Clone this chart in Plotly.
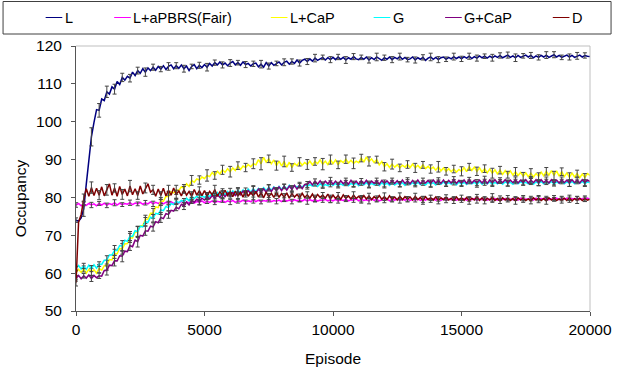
import plotly.graph_objects as go

# ---------------- data ----------------
EPISODES = list(range(0, 20001, 100))

SERIES_NAMES = ["L", "L+aPBRS(Fair)", "L+CaP", "G", "G+CaP", "D"]

L_VALUES = [
    74.0, 73.7, 74.6, 77.0, 83.5, 89.0, 96.0, 99.8, 103.2, 103.0,
    106.0, 105.6, 107.9, 107.3, 109.2, 108.6, 110.6, 109.8, 111.7, 111.0,
    112.0, 111.5, 113.1, 112.2, 113.5, 112.8, 114.0, 113.1, 114.2, 113.5,
    114.4, 113.6, 114.6, 113.9, 114.8, 113.8, 114.6, 115.0, 114.0, 114.8,
    114.1, 115.0, 114.0, 114.7, 113.5, 114.6, 115.1, 114.0, 114.9, 114.3,
    115.1, 114.4, 115.4, 114.7, 115.6, 115.0, 115.8, 115.0, 115.5, 114.8,
    115.5, 115.9, 115.0, 115.6, 114.9, 115.8, 115.1, 115.4, 114.7, 115.3,
    115.5, 114.5, 115.2, 114.4, 115.6, 114.7, 115.6, 114.9, 115.4, 115.8,
    115.0, 115.7, 116.0, 115.2, 115.9, 115.4, 116.3, 115.5, 116.2, 116.5,
    115.9, 116.6, 116.0, 116.8, 116.2, 116.7, 117.0, 116.3, 116.9, 116.4,
    117.0, 116.4, 117.1, 116.5, 117.0, 116.3, 116.9, 116.5, 117.2, 116.6,
    116.4, 117.0, 116.5, 117.1, 116.3, 116.9, 116.4, 117.1, 116.6, 116.2,
    116.9, 116.5, 117.1, 116.4, 117.0, 116.6, 117.2, 116.5, 117.0, 116.4,
    116.6, 117.1, 116.3, 116.9, 116.5, 117.0, 116.2, 116.8, 117.1, 116.5,
    117.0, 116.4, 116.9, 117.1, 116.5, 117.0, 116.6, 117.2, 116.7, 117.1,
    116.6, 117.2, 116.8, 117.3, 116.7, 117.2, 116.8, 117.4, 116.9, 117.3,
    116.8, 117.3, 116.9, 117.4, 117.0, 117.5, 116.9, 117.3, 117.6, 117.0,
    117.4, 116.9, 117.5, 117.0, 117.4, 117.6, 117.1, 117.5, 116.9, 117.4,
    117.0, 117.5, 117.1, 117.6, 117.0, 117.4, 117.7, 117.1, 117.5, 117.0,
    117.4, 117.6, 117.1, 117.5, 117.0, 117.4, 117.6, 117.1, 117.5, 117.3,
    117.2,
]

APBRS_VALUES = [
    78.0, 78.4, 77.8, 78.3, 77.9, 78.4, 78.0, 78.3, 77.8, 78.4,
    78.0, 78.5, 77.9, 78.4, 78.1, 78.6, 78.0, 78.5, 78.1, 78.4,
    78.2, 78.6, 78.1, 78.5, 78.3, 78.7, 78.2, 78.6, 78.3, 78.8,
    78.3, 78.7, 78.4, 78.9, 78.3, 78.7, 78.5, 78.9, 78.4, 78.8,
    78.5, 79.0, 78.4, 78.8, 78.6, 79.0, 78.5, 78.9, 78.7, 79.1,
    78.6, 79.0, 78.7, 79.1, 78.6, 79.0, 78.8, 79.2, 78.7, 79.1,
    78.8, 79.2, 78.7, 79.1, 78.9, 79.3, 78.8, 79.1, 78.9, 79.3,
    78.9, 79.3, 78.8, 79.2, 79.0, 79.4, 78.9, 79.2, 79.0, 79.3,
    78.9, 79.4, 79.0, 79.3, 78.9, 79.4, 79.1, 79.3, 79.0, 79.5,
    79.0, 79.4, 79.1, 79.5, 79.0, 79.3, 79.2, 79.5, 79.1, 79.4,
    79.1, 79.5, 79.0, 79.4, 79.2, 79.5, 79.1, 79.4, 79.2, 79.6,
    79.1, 79.5, 79.2, 79.4, 79.1, 79.6, 79.2, 79.5, 79.1, 79.4,
    79.2, 79.6, 79.1, 79.5, 79.3, 79.6, 79.2, 79.5, 79.3, 79.6,
    79.2, 79.5, 79.3, 79.6, 79.2, 79.5, 79.3, 79.7, 79.2, 79.6,
    79.3, 79.6, 79.2, 79.7, 79.3, 79.6, 79.4, 79.7, 79.3, 79.6,
    79.2, 79.7, 79.3, 79.6, 79.4, 79.7, 79.3, 79.6, 79.4, 79.7,
    79.3, 79.6, 79.4, 79.7, 79.3, 79.8, 79.4, 79.7, 79.3, 79.6,
    79.4, 79.7, 79.3, 79.8, 79.4, 79.6, 79.5, 79.7, 79.3, 79.8,
    79.4, 79.7, 79.5, 79.8, 79.4, 79.6, 79.5, 79.8, 79.4, 79.7,
    79.5, 79.8, 79.4, 79.7, 79.5, 79.8, 79.4, 79.7, 79.5, 79.8,
    79.5,
]

LCAP_VALUES = [
    60.1, 61.0, 60.2, 61.1, 60.0, 61.0, 60.3, 60.9, 60.0, 61.2,
    60.8, 62.0, 62.1, 63.6, 63.5, 65.1, 65.1, 66.5, 66.4, 67.7,
    67.8, 69.3, 69.3, 70.8, 70.9, 72.5, 72.6, 74.2, 74.3, 75.8,
    75.8, 77.5, 77.3, 79.0, 79.0, 80.3, 80.2, 81.5, 81.2, 82.0,
    81.8, 82.8, 82.4, 83.6, 82.9, 84.5, 84.0, 84.9, 84.6, 85.4,
    85.0, 85.8, 85.5, 86.6, 85.8, 86.9, 86.2, 87.3, 86.6, 87.6,
    86.8, 87.8, 87.1, 88.4, 87.4, 88.3, 87.9, 88.7, 88.1, 88.9,
    88.6, 90.0, 88.9, 90.6, 89.3, 90.2, 88.9, 89.9, 88.4, 89.6,
    88.3, 89.5, 88.0, 89.3, 87.9, 89.0, 88.4, 89.4, 88.5, 89.2,
    88.7, 89.6, 88.6, 89.5, 88.9, 89.9, 88.8, 89.6, 88.7, 90.0,
    88.9, 89.9, 88.6, 89.7, 89.2, 90.1, 89.1, 89.8, 89.0, 89.6,
    89.2, 90.4, 89.3, 90.7, 89.5, 90.2, 89.2, 90.0, 88.6, 89.5,
    88.1, 88.9, 87.9, 88.8, 88.0, 88.6, 87.8, 88.5, 88.0, 88.7,
    87.9, 88.8, 87.8, 88.5, 87.7, 88.6, 87.6, 88.2, 87.5, 88.0,
    87.2, 88.1, 87.0, 87.8, 86.9, 87.6, 86.8, 87.5, 86.7, 87.4,
    86.9, 87.9, 86.8, 88.1, 87.1, 88.0, 86.9, 87.8, 86.7, 87.6,
    86.5, 87.5, 86.4, 87.3, 86.2, 87.2, 86.1, 87.1, 86.0, 87.0,
    85.9, 86.8, 85.8, 86.6, 85.6, 86.5, 85.5, 86.4, 85.4, 86.3,
    85.6, 86.7, 85.7, 86.9, 85.9, 87.1, 85.8, 87.0, 85.6, 86.8,
    85.5, 86.5, 85.3, 86.4, 85.4, 86.3, 85.2, 86.2, 85.3, 86.3,
    85.8,
]

G_VALUES = [
    61.2, 62.0, 61.1, 61.9, 61.0, 62.1, 61.2, 62.2, 61.3, 62.4,
    62.3, 63.4, 63.5, 64.8, 64.8, 66.0, 66.0, 67.3, 67.2, 68.7,
    68.4, 69.8, 69.7, 71.2, 71.0, 72.4, 72.2, 73.6, 73.4, 74.8,
    74.5, 75.8, 75.6, 76.7, 76.5, 77.6, 77.3, 78.4, 78.1, 79.0,
    78.6, 79.2, 78.9, 79.8, 79.1, 80.2, 79.7, 80.3, 79.8, 80.5,
    80.0, 80.7, 80.2, 81.1, 80.3, 81.3, 80.5, 81.5, 80.7, 81.6,
    80.8, 81.7, 81.0, 81.9, 81.1, 82.0, 81.2, 82.2, 81.4, 82.3,
    81.5, 82.4, 81.7, 82.6, 81.8, 82.7, 81.9, 82.8, 82.0, 82.9,
    82.1, 83.0, 82.2, 83.2, 82.3, 83.1, 82.7, 83.1, 82.8, 83.3,
    82.9, 83.4, 83.0, 83.5, 82.9, 83.6, 83.0, 83.4, 83.1, 83.6,
    83.2, 83.7, 83.0, 83.6, 83.2, 83.8, 83.1, 83.7, 83.3, 83.8,
    83.1, 83.7, 83.3, 83.9, 83.2, 83.7, 83.3, 83.8, 83.1, 83.9,
    83.3, 83.8, 83.2, 84.0, 83.3, 83.8, 83.4, 83.9, 83.2, 84.0,
    83.4, 83.9, 83.3, 84.0, 83.4, 83.8, 83.3, 84.0, 83.5, 83.9,
    83.3, 84.0, 83.5, 84.1, 83.4, 83.9, 83.5, 84.0, 83.3, 84.1,
    83.5, 84.0, 83.4, 84.1, 83.6, 84.0, 83.4, 84.2, 83.5, 84.0,
    83.6, 84.1, 83.5, 84.0, 83.6, 84.2, 83.5, 84.1, 83.7, 84.0,
    83.5, 84.2, 83.6, 84.1, 83.7, 84.0, 83.6, 84.2, 83.5, 84.1,
    83.7, 84.2, 83.6, 84.1, 83.7, 84.2, 83.5, 84.1, 83.7, 84.2,
    83.6, 84.1, 83.7, 84.2, 83.6, 84.1, 83.7, 84.2, 83.6, 84.1,
    83.9,
]

GCAP_VALUES = [
    58.6, 59.4, 58.5, 59.3, 58.7, 59.5, 58.6, 59.4, 58.8, 59.3,
    59.2, 60.7, 60.7, 62.1, 62.0, 63.3, 63.2, 64.6, 64.5, 65.8,
    65.7, 67.3, 67.0, 68.7, 68.3, 70.0, 69.8, 71.2, 71.1, 72.4,
    72.2, 73.6, 73.3, 74.7, 74.4, 75.7, 75.5, 76.6, 76.4, 77.4,
    77.0, 78.2, 77.7, 78.8, 78.0, 79.2, 78.7, 79.5, 79.0, 79.8,
    79.3, 80.1, 79.6, 80.5, 79.7, 80.7, 80.0, 80.9, 80.2, 81.1,
    80.4, 81.3, 80.5, 81.5, 80.7, 81.7, 80.8, 81.8, 81.0, 82.0,
    81.1, 82.2, 81.3, 82.3, 81.4, 82.5, 81.6, 82.6, 81.7, 82.8,
    81.8, 82.9, 81.9, 83.0, 82.1, 83.2, 82.2, 83.3, 82.3, 83.4,
    83.4, 84.2, 83.3, 84.3, 83.5, 84.4, 83.4, 84.3, 83.6, 84.4,
    83.5, 84.3, 83.4, 84.4, 83.6, 84.3, 83.5, 84.5, 83.6, 84.3,
    83.5, 84.4, 83.6, 84.5, 83.5, 84.3, 83.7, 84.4, 83.5, 84.5,
    83.7, 84.4, 83.6, 84.5, 83.7, 84.4, 83.5, 84.6, 83.7, 84.4,
    83.6, 84.5, 83.7, 84.6, 83.6, 84.4, 83.8, 84.5, 83.7, 84.6,
    83.8, 84.5, 83.7, 84.6, 83.6, 84.5, 83.8, 84.7, 83.7, 84.5,
    83.8, 84.6, 83.7, 84.7, 83.8, 84.5, 83.9, 84.6, 83.8, 84.7,
    83.7, 84.6, 83.9, 84.7, 83.8, 84.6, 83.9, 84.7, 83.8, 84.6,
    83.9, 84.7, 83.8, 84.6, 83.9, 84.7, 83.8, 84.6, 83.9, 84.7,
    83.8, 84.7, 83.9, 84.6, 83.8, 84.7, 83.9, 84.6, 83.8, 84.7,
    83.9, 84.6, 83.8, 84.7, 83.9, 84.6, 83.8, 84.7, 83.9, 84.6,
    84.2,
]

D_VALUES = [
    57.5, 73.5, 75.5, 79.5, 82.3, 80.3, 82.6, 80.5, 82.4, 80.6,
    82.8, 80.4, 82.0, 83.6, 80.6, 82.5, 80.3, 82.9, 80.8, 82.2,
    80.4, 83.0, 80.7, 82.3, 80.5, 83.0, 80.9, 82.5, 83.6, 81.4,
    82.0, 80.3, 82.2, 80.5, 82.4, 80.4, 81.9, 80.6, 82.5, 80.8,
    81.7, 80.4, 82.0, 80.6, 81.6, 80.3, 82.1, 80.6, 81.8, 80.5,
    81.8, 80.4, 81.6, 80.7, 82.1, 80.3, 81.5, 80.6, 81.9, 80.5,
    81.5, 80.2, 81.7, 80.4, 81.4, 80.1, 81.8, 80.3, 81.3, 80.4,
    81.6, 80.1, 81.2, 79.9, 81.4, 80.2, 81.1, 80.0, 81.3, 80.1,
    81.0, 80.0, 81.2, 79.8, 81.0, 80.1, 80.8, 79.9, 81.1, 80.0,
    80.7, 79.8, 80.9, 79.7, 80.8, 80.0, 80.6, 79.8, 80.9, 79.6,
    80.6, 79.7, 80.5, 79.5, 80.7, 79.8, 80.4, 79.6, 80.6, 79.7,
    80.3, 79.5, 80.5, 79.6, 80.4, 79.4, 80.2, 79.6, 80.5, 79.5,
    80.2, 79.4, 80.4, 79.5, 80.1, 79.3, 80.3, 79.4, 80.2, 79.5,
    80.1, 79.3, 80.3, 79.4, 80.0, 79.2, 80.2, 79.4, 79.9, 79.3,
    80.1, 79.2, 79.9, 79.4, 80.0, 79.3, 79.8, 79.2, 80.1, 79.3,
    79.9, 79.2, 80.0, 79.1, 79.8, 79.3, 80.1, 79.2, 79.9, 79.1,
    79.8, 79.3, 80.0, 79.2, 79.7, 79.1, 79.9, 79.3, 79.8, 79.2,
    79.7, 79.1, 79.9, 79.3, 79.8, 79.2, 79.6, 79.1, 79.9, 79.3,
    79.8, 79.2, 79.7, 79.1, 79.9, 79.3, 79.8, 79.2, 79.6, 79.3,
    79.8, 79.2, 79.9, 79.1, 79.7, 79.3, 79.8, 79.2, 79.7, 79.3,
    79.5,
]

# error bar half-widths, one per 300 episodes (0, 300, ..., 19800)
L_ERR = [
    0.6, 2.0, 2.4, 1.8, 1.5, 1.3, 1.1, 1.0, 0.9, 1.1,
    0.8, 0.7, 1.0, 0.8, 0.9, 0.6, 0.8, 1.0, 0.7, 0.8,
    0.9, 0.6, 0.8, 0.7, 1.0, 0.8, 0.6, 0.9, 0.7, 0.8,
    0.8, 1.0, 0.6, 0.8, 0.7, 0.9, 0.8, 0.6, 0.8, 1.0,
    0.7, 0.8, 0.9, 0.6, 0.8, 0.7, 1.0, 0.8, 0.6, 0.9,
    0.7, 0.8, 0.8, 0.6, 0.9, 0.7, 0.8, 1.0, 0.6, 0.8,
    0.7, 0.9, 0.8, 0.6, 0.8, 0.9, 0.7,
]
APBRS_ERR = [
    0.6, 0.5, 0.7, 0.5, 0.6, 0.8, 0.5, 0.7, 0.5, 0.6,
    0.7, 0.5, 0.5, 0.6, 0.8, 0.5, 0.7, 0.6, 0.5, 0.5,
    0.7, 0.6, 0.5, 0.8, 0.5, 0.6, 0.7, 0.5, 0.6, 0.5,
    0.8, 0.6, 0.5, 0.7, 0.5, 0.6, 0.5, 0.7, 0.8, 0.5,
    0.6, 0.5, 0.7, 0.6, 0.5, 0.8, 0.5, 0.6, 0.7, 0.5,
    0.5, 0.6, 0.8, 0.5, 0.7, 0.6, 0.5, 0.5, 0.7, 0.6,
    0.8, 0.5, 0.5, 0.6, 0.7, 0.5, 0.6,
]
LCAP_ERR = [
    0.7, 0.8, 0.9, 1.1, 1.3, 1.2, 1.4, 1.2, 1.5, 1.1,
    1.3, 1.0, 1.4, 1.2, 1.0, 1.3, 1.1, 1.5, 1.0, 1.2,
    1.4, 1.0, 1.1, 1.3, 1.6, 1.0, 1.2, 1.4, 1.0, 1.1,
    1.3, 1.0, 1.5, 1.2, 1.0, 1.1, 1.4, 1.0, 1.2, 0.9,
    1.1, 1.3, 1.0, 1.0, 1.2, 0.9, 1.1, 1.4, 1.0, 1.0,
    1.2, 0.9, 1.1, 1.0, 1.3, 1.0, 0.9, 1.1, 1.0, 1.2,
    0.9, 1.0, 1.1, 1.0, 1.2, 0.9, 1.0,
]
G_ERR = [
    0.6, 0.7, 0.8, 0.6, 1.1, 1.3, 1.4, 1.2, 1.3, 1.1,
    1.0, 1.2, 0.9, 0.8, 0.8, 0.7, 0.8, 0.6, 0.7, 0.8,
    0.5, 0.7, 0.6, 0.8, 0.5, 0.7, 0.6, 0.5, 0.8, 0.6,
    0.7, 0.5, 0.6, 0.8, 0.5, 0.7, 0.6, 0.5, 0.7, 0.6,
    0.8, 0.5, 0.6, 0.7, 0.5, 0.6, 0.8, 0.6, 0.5, 0.7,
    0.6, 0.5, 0.7, 0.8, 0.6, 0.5, 0.7, 0.6, 0.5, 0.8,
    0.6, 0.7, 0.5, 0.6, 0.8, 0.5, 0.7,
]
GCAP_ERR = [
    0.7, 0.6, 0.8, 0.7, 1.2, 1.4, 1.5, 1.3, 1.4, 1.2,
    1.1, 1.3, 1.0, 0.9, 0.9, 0.8, 0.9, 0.7, 0.8, 0.9,
    0.6, 0.8, 0.7, 0.9, 0.6, 0.8, 0.7, 0.6, 0.9, 0.7,
    0.8, 0.6, 0.7, 0.9, 0.6, 0.8, 0.7, 0.6, 0.8, 0.7,
    0.9, 0.6, 0.7, 0.8, 0.6, 0.7, 0.9, 0.7, 0.6, 0.8,
    0.7, 0.6, 0.8, 0.9, 0.7, 0.6, 0.8, 0.7, 0.6, 0.9,
    0.7, 0.8, 0.6, 0.7, 0.9, 0.6, 0.8,
]
D_ERR = [
    0.9, 1.4, 1.5, 1.2, 1.4, 1.1, 1.3, 1.5, 1.0, 1.3,
    1.2, 1.0, 1.3, 1.1, 0.9, 1.2, 1.0, 0.8, 1.1, 1.0,
    0.9, 1.0, 0.7, 1.0, 1.1, 0.8, 0.9, 1.0, 0.7, 1.0,
    0.8, 0.9, 0.7, 1.0, 0.8, 0.7, 0.9, 1.0, 0.7, 0.8,
    1.0, 0.7, 0.9, 0.7, 0.8, 1.0, 0.7, 0.9, 0.7, 0.8,
    0.7, 0.9, 0.7, 0.8, 1.0, 0.7, 0.7, 0.9, 0.7, 0.8,
    0.7, 0.9, 0.7, 0.8, 0.7, 0.9, 0.7,
]

X_TICKS = [0, 5000, 10000, 15000, 20000]
Y_TICKS = [50, 60, 70, 80, 90, 100, 110, 120]

# ---------------- styling ----------------
VALUES = [L_VALUES, APBRS_VALUES, LCAP_VALUES, G_VALUES, GCAP_VALUES, D_VALUES]
ERRORS = [L_ERR, APBRS_ERR, LCAP_ERR, G_ERR, GCAP_ERR, D_ERR]
COLORS = ["#000080", "#FF00FF", "#FFFF00", "#00FFFF", "#800080", "#800000"]
FONT = "Liberation Sans, Arial, sans-serif"
ERR_EVERY = 3

W, H = 624, 375
ML, MR, MT, MB = 76, 23, 46, 64
PW, PH = W - ML - MR, H - MT - MB


def px(x):
    return (x - ML) / PW


def py(y):
    return (H - MB - y) / PH


fig = go.Figure()
for name, vals, errs, col in zip(SERIES_NAMES, VALUES, ERRORS, COLORS):
    n = min(len(EPISODES), len(vals))
    fig.add_trace(go.Scatter(
        x=EPISODES[:n], y=vals[:n], mode="lines", name=name,
        line=dict(color=col, width=1.5), showlegend=False, hoverinfo="skip"))
    ex = EPISODES[:n][::ERR_EVERY]
    ey = vals[:n][::ERR_EVERY]
    m = min(len(ex), len(errs))
    fig.add_trace(go.Scatter(
        x=ex[:m], y=ey[:m], mode="markers", showlegend=False, hoverinfo="skip",
        marker=dict(size=1, opacity=0, color=col),
        error_y=dict(type="data", array=errs[:m], color="#444444",
                     thickness=1, width=2)))

shapes = [
    dict(type="line", xref="paper", yref="paper", x0=0, x1=1, y0=1, y1=1,
         line=dict(color="#BFBFBF", width=1)),
    dict(type="line", xref="paper", yref="paper", x0=1, x1=1, y0=0, y1=1,
         line=dict(color="#BFBFBF", width=1)),
    dict(type="rect", xref="paper", yref="paper",
         x0=px(1.5), x1=px(622.5), y0=py(34), y1=py(1.5),
         line=dict(color="#404040", width=1), fillcolor="white"),
]

annotations = []
LEG_LINE_X = [45, 115, 275, 380, 453, 563]
for name, col, lx in zip(SERIES_NAMES, COLORS, LEG_LINE_X):
    shapes.append(dict(type="line", xref="paper", yref="paper",
                       x0=px(lx), x1=px(lx + 17), y0=py(17.5), y1=py(17.5),
                       line=dict(color=col, width=1)))
    annotations.append(dict(xref="paper", yref="paper", x=px(lx + 17.5), y=py(18),
                            text=name, showarrow=False, xanchor="left",
                            yanchor="middle",
                            font=dict(family=FONT, size=14.5, color="black")))

annotations.append(dict(xref="paper", yref="paper", x=px(19), y=py(198),
                        text="Occupancy", textangle=-90, showarrow=False,
                        xanchor="center", yanchor="middle",
                        font=dict(family=FONT, size=15.5, color="black")))
annotations.append(dict(xref="paper", yref="paper", x=px(339), y=py(358),
                        text="Episode", showarrow=False,
                        xanchor="center", yanchor="middle",
                        font=dict(family=FONT, size=15.5, color="black")))

fig.update_layout(
    width=W, height=H,
    margin=dict(l=ML, r=MR, t=MT, b=MB, pad=0),
    paper_bgcolor="white", plot_bgcolor="white",
    font=dict(family=FONT, size=15.5, color="black"),
    shapes=shapes, annotations=annotations,
    showlegend=False,
    xaxis=dict(range=[0, 20000], tickvals=X_TICKS, ticktext=[str(v) for v in X_TICKS],
               showgrid=False, zeroline=False, showline=True, linecolor="#555555",
               linewidth=1, ticks="outside", ticklen=4, tickcolor="#555555",
               tickfont=dict(family=FONT, size=15.5, color="black"),
               ticklabelstandoff=0),
    yaxis=dict(range=[50, 120], tickvals=Y_TICKS, showgrid=False, zeroline=False,
               showline=True, linecolor="#555555", linewidth=1, ticks="outside",
               ticklen=4, tickcolor="#555555",
               tickfont=dict(family=FONT, size=15.5, color="black"),
               ticklabelstandoff=6),
)

fig.write_html("out.html", config={"displayModeBar": False},
               post_script="document.body.style.margin='0';document.body.style.overflow='hidden';")
